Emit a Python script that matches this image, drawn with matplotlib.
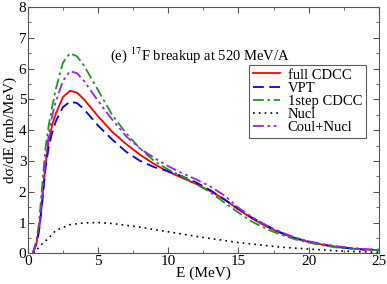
import matplotlib
matplotlib.use("Agg")
import matplotlib.pyplot as plt
from matplotlib.ticker import MultipleLocator

plt.rcParams['font.family'] = ['Liberation Serif', 'DejaVu Serif']
plt.rcParams['mathtext.fontset'] = 'stix'

# energies (MeV) and cross sections (mb/MeV)
e = [0.35, 0.6, 0.8, 1.0, 1.25, 1.5, 1.75, 2.0, 2.5, 3.0, 3.5, 4.0, 5.0, 6.0,
     7.0, 8.0, 9.0, 10.0, 11.0, 12.0, 13.0, 14.0, 15.0, 16.0, 17.0, 18.0,
     19.0, 20.0, 21.0, 22.0, 23.0, 24.0, 25.0]
full_cdcc = [0.0, 0.3, 0.75, 1.6, 2.85, 3.7, 4.2, 4.55, 5.08, 5.28, 5.22, 5.0,
             4.45, 3.95, 3.55, 3.2, 2.9, 2.65, 2.45, 2.25, 2.02, 1.75, 1.42,
             1.12, 0.87, 0.66, 0.49, 0.37, 0.28, 0.21, 0.16, 0.12, 0.1]
vpt = [0.0, 0.3, 0.75, 1.55, 2.75, 3.5, 3.95, 4.3, 4.75, 4.93, 4.88, 4.68,
       4.15, 3.7, 3.3, 3.0, 2.8, 2.67, 2.5, 2.3, 2.05, 1.75, 1.45, 1.15, 0.9,
       0.68, 0.5, 0.38, 0.28, 0.21, 0.16, 0.12, 0.1]
one_step = [0.0, 0.4, 1.0, 2.1, 3.4, 4.2, 4.8, 5.35, 6.2, 6.5, 6.4, 6.1, 5.3,
            4.5, 3.9, 3.4, 3.0, 2.72, 2.5, 2.25, 1.98, 1.65, 1.32, 1.02, 0.79,
            0.61, 0.46, 0.35, 0.26, 0.19, 0.15, 0.12, 0.1]
coul_nucl = [0.0, 0.35, 0.85, 1.8, 3.0, 3.9, 4.5, 4.95, 5.6, 5.92, 5.85, 5.6,
             4.95, 4.35, 3.8, 3.4, 3.1, 2.83, 2.6, 2.4, 2.17, 1.88, 1.48, 1.16,
             0.9, 0.69, 0.52, 0.39, 0.3, 0.23, 0.18, 0.14, 0.12]
e_nucl = [0.4, 1.0, 1.5, 2.0, 3.0, 4.0, 5.0, 6.0, 8.0, 10.0, 12.0, 15.0, 18.0,
          20.0, 22.0, 25.0]
nucl = [0.0, 0.3, 0.5, 0.75, 0.93, 0.99, 1.0, 0.97, 0.85, 0.7, 0.55, 0.35,
        0.2, 0.14, 0.08, 0.03]

fig = plt.figure(figsize=(3.87, 2.84), dpi=100)
ax = fig.add_axes([0.072, 0.108, 0.907, 0.867])

ax.plot(e, full_cdcc, color='red', lw=1.3, label='full CDCC')
ax.plot(e, vpt, color='blue', lw=1.3, dashes=(6, 3), label='VPT')
ax.plot(e, one_step, color='#1a9a1a', lw=1.3, dashes=(6, 2, 1.5, 2),
        label='1step CDCC')
ax.plot(e_nucl, nucl, color='black', lw=1.2, dashes=(1, 2.5), label='Nucl')
ax.plot(e, coul_nucl, color='#a020f0', lw=1.3, dashes=(6, 2, 1.5, 2, 1.5, 2),
        label='Coul+Nucl')

ax.set_xlim(0, 25)
ax.set_ylim(0, 8)
ax.xaxis.set_major_locator(MultipleLocator(5))
ax.xaxis.set_minor_locator(MultipleLocator(2.5))
ax.yaxis.set_major_locator(MultipleLocator(1))
ax.yaxis.set_minor_locator(MultipleLocator(0.5))
ax.tick_params(which='both', direction='in', top=True, right=True,
               labelsize=11, pad=1, color='#555555')
ax.tick_params(which='major', length=4)
ax.tick_params(which='minor', length=2)
for s in ax.spines.values():
    s.set_color('#555555')

ax.set_xlabel('E (MeV)', fontsize=11, labelpad=-1)
ax.set_ylabel('dσ/dE (mb/MeV)', fontsize=11, labelpad=1)

ax.text(5.85, 6.43, r'(e) $^{17}$F breakup at 520 MeV/A', fontsize=10.5,
        ha='left', va='center')

leg = ax.legend(loc='upper right', bbox_to_anchor=(0.962, 0.766), fontsize=10.5,
                handlelength=1.9, handletextpad=0.5, labelspacing=0.0,
                borderpad=0.25, borderaxespad=0.0, frameon=True, fancybox=False)
leg.get_frame().set_edgecolor('#333333')
leg.get_frame().set_linewidth(0.8)

fig.savefig('out.png', dpi=100)
